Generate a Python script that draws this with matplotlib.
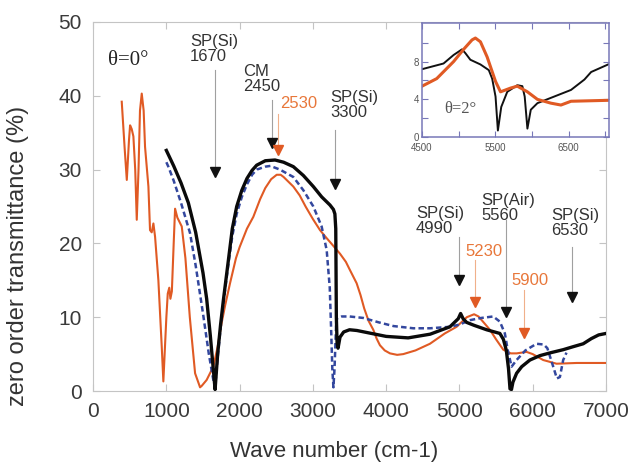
import numpy as np
import matplotlib
matplotlib.use('Agg')
from matplotlib import pyplot as plt

plt.rcParams['font.family'] = ['Liberation Sans', 'DejaVu Sans']

# main panel, theta = 0 deg
black_x = [1000, 1100, 1200, 1300, 1400, 1500, 1550, 1600, 1640, 1665, 1700, 1740, 1778, 1850, 1900, 1960, 2030,
           2100, 2170, 2233, 2350, 2483, 2600, 2733, 2870, 3006, 3120, 3233, 3280, 3300, 3312, 3320, 3330, 3343,
           3370, 3420, 3500, 3600, 3800, 4000, 4300, 4600, 4870, 4984, 5016, 5050, 5098, 5200, 5371, 5552,
           5600, 5640, 5670, 5690, 5710, 5730, 5780, 5850, 5962, 6100, 6250, 6416, 6550, 6689, 6800, 6900, 7000]
black_y = [32.6, 30.5, 28.2, 25.5, 21.5, 16.0, 12.5, 7.5, 3.0, 0.2, 5.0, 9.0, 12.3, 18.0, 22.0, 25.0, 27.2,
           28.8, 29.9, 30.6, 31.2, 31.3, 31.0, 30.4, 29.2, 27.7, 26.3, 25.2, 24.6, 24.0, 22.0, 10.0, 6.5, 5.8,
           7.3, 8.0, 8.3, 8.2, 7.8, 7.4, 7.2, 7.7, 8.7, 9.8, 10.5, 9.8, 9.3, 8.9, 8.3, 7.8,
           7.0, 5.5, 3.0, 0.3, 0.2, 1.2, 2.4, 3.3, 4.2, 4.8, 5.2, 5.6, 6.0, 6.4, 7.1, 7.6, 7.8]

blue_x = [1000, 1027, 1100, 1200, 1323, 1400, 1500, 1580, 1641, 1665, 1700, 1740, 1780, 1850, 1900, 1960, 2030,
          2100, 2170, 2233, 2350, 2420, 2550, 2733, 2870, 3006, 3119, 3188, 3230, 3250, 3265, 3280, 3295, 3320,
          3393, 3500, 3688, 3900, 4100, 4370, 4600, 4870, 5000, 5143, 5300, 5461, 5552, 5620, 5660, 5712,
          5780, 5900, 6052, 6150, 6200, 6280, 6330, 6371, 6416, 6461]
blue_y = [31.0, 30.4, 28.5, 25.5, 21.4, 17.0, 10.5, 5.0, 1.5, 0.5, 4.5, 8.5, 12.0, 17.5, 21.0, 24.0, 26.3,
          28.0, 29.3, 30.0, 30.4, 30.5, 30.0, 29.0, 27.2, 25.0, 22.3, 19.1, 14.0, 8.0, 3.0, 0.5, 3.0, 9.8,
          10.1, 10.1, 9.9, 9.3, 8.8, 8.5, 8.5, 8.7, 9.0, 9.6, 9.9, 10.1, 9.4, 7.8, 5.5, 3.3,
          4.2, 5.5, 6.4, 6.3, 5.8, 3.3, 1.7, 1.9, 4.2, 5.2]

orange_x = [391, 430, 460, 490, 505, 527, 550, 575, 596, 620, 640, 664, 690, 709, 755, 777, 800, 823, 846, 891,
            937, 959, 1000, 1019, 1040, 1055, 1075, 1100, 1119, 1150, 1210, 1260, 1320, 1392, 1460, 1483, 1550,
            1641, 1700, 1750, 1800, 1869, 1950, 2000, 2100, 2187, 2280, 2350, 2430, 2506, 2560, 2600, 2733,
            2820, 2900, 3000, 3097, 3180, 3250, 3370, 3450, 3500, 3597, 3650, 3700, 3760, 3824, 3870, 3915,
            3980, 4052, 4150, 4233, 4400, 4597, 4800, 4961, 5100, 5200, 5260, 5330, 5416, 5500, 5598, 5700,
            5780, 5916, 6000, 6143, 6325, 6600, 7000]
orange_y = [39.2, 33.0, 28.6, 34.0, 36.0, 35.5, 34.5, 30.0, 23.2, 30.0, 38.0, 40.3, 38.0, 33.1, 27.7, 21.8, 21.5,
            22.7, 20.9, 15.0, 6.0, 1.3, 10.0, 13.2, 14.0, 12.5, 13.5, 20.0, 24.7, 23.5, 22.3, 18.0, 10.0, 2.4,
            0.5, 0.7, 1.5, 3.3, 6.0, 9.0, 11.5, 14.6, 18.0, 19.5, 22.0, 23.6, 26.0, 27.5, 28.7, 29.3, 29.3,
            29.0, 27.7, 26.5, 25.0, 23.3, 21.8, 20.8, 20.0, 18.6, 17.5, 16.5, 14.6, 13.0, 11.2, 9.5, 8.3,
            7.1, 6.2, 5.5, 5.1, 4.9, 5.0, 5.5, 6.4, 7.8, 8.7, 10.0, 10.4, 10.1, 9.3, 8.3, 7.0, 5.6, 5.1,
            5.1, 5.3, 5.0, 4.2, 3.7, 3.8, 3.8]

# inset, theta = 2 deg
in_black_x = [4500, 4793, 4930, 5045, 5091, 5159, 5297, 5411, 5457, 5503, 5535, 5581, 5663, 5800, 5869, 5901,
              5938, 5984, 6075, 6304, 6533, 6716, 6808, 7040]
in_black_y = [7.2, 7.8, 8.7, 9.3, 8.9, 8.2, 7.7, 7.1, 6.2, 4.3, 0.7, 3.2, 4.8, 5.5, 5.4, 4.3,
              0.9, 2.9, 3.6, 4.3, 5.0, 6.1, 6.9, 7.7]
in_orange_x = [4500, 4700, 4930, 5067, 5182, 5228, 5297, 5388, 5503, 5571, 5709, 5800, 5938, 6075, 6258, 6396,
               6533, 7040]
in_orange_y = [5.4, 6.2, 8.0, 9.3, 10.3, 10.5, 10.1, 8.5, 5.9, 4.8, 5.2, 5.4, 4.8, 4.0, 3.6, 3.4,
               3.8, 3.9]

# arrows: position, line top, head, colour key
arrow_x = [1670, 2440, 2520, 3300, 4995, 5210, 5630, 5885, 6540]
arrow_top = [43.5, 39.4, 37.6, 35.4, 20.9, 17.7, 23.2, 13.7, 19.5]
arrow_head = [29.7, 33.6, 32.7, 28.1, 15.1, 12.1, 10.7, 7.8, 12.8]
arrow_kind = ['k', 'k', 'o', 'k', 'k', 'o', 'k', 'o', 'k']

label_text = ['SP(Si)\n1670', 'CM\n2450', '2530', 'SP(Si)\n3300', 'SP(Si)\n4990', '5230',
              'SP(Air)\n5560', '5900', 'SP(Si)\n6530']
label_x = [1323, 2046, 2551, 3233, 4407, 5075, 5303, 5712, 6258]
label_y = [46.3, 42.3, 39.0, 38.8, 23.0, 18.9, 24.8, 15.0, 22.8]

ORANGE = '#e05a24'
ORANGE_TXT = '#e8773a'
BLUE = '#33479e'
FRAME = '#c4c4c4'

fig = plt.figure(figsize=(6.29, 4.68), dpi=100)
ax = fig.add_axes([0.148, 0.1645, 0.8154, 0.7885])

ax.plot(orange_x, orange_y, color=ORANGE, lw=1.5, zorder=3)
ax.plot(blue_x, blue_y, color=BLUE, lw=1.8, ls=(0, (2.2, 1.3)), zorder=4)
ax.plot(black_x, black_y, color='#0a0a0a', lw=2.4, zorder=5)

for x, top, head, kind in zip(arrow_x, arrow_top, arrow_head, arrow_kind):
    lc = '#f0b08a' if kind == 'o' else '#a0a0a0'
    hc = ORANGE if kind == 'o' else '#111111'
    ax.plot([x, x], [top, head], color=lc, lw=0.8, zorder=2)
    ax.plot([x], [head], marker='v', color=hc, ms=7, zorder=6)

for t, x, y in zip(label_text, label_x, label_y):
    c = ORANGE_TXT if t[0].isdigit() else '#333333'
    ax.text(x, y, t, color=c, fontsize=12, ha='left', va='center', linespacing=1.0)

ax.text(205, 44.8, 'θ=0°', family=['Liberation Serif', 'DejaVu Serif'], fontsize=15, color='#222222',
        ha='left', va='center')

ax.set_xlim(0, 7000)
ax.set_ylim(0, 50)
ax.set_xticks(np.arange(0, 7001, 1000))
ax.set_yticks(np.arange(0, 51, 10))
ax.tick_params(direction='in', top=True, right=True, length=5, color=FRAME, labelsize=15,
               labelcolor='#3a3a3a', pad=8)
for s in ax.spines.values():
    s.set_color(FRAME)
ax.set_xlabel('Wave number (cm-1)', fontsize=16, color='#333333')
ax.set_ylabel('zero order transmittance (%)', fontsize=17, color='#333333')
ax.xaxis.set_label_coords(0.47, -0.135)
ax.yaxis.set_label_coords(-0.125, 0.365)

# inset
INS = '#7878b8'
ins = fig.add_axes([0.671, 0.707, 0.297, 0.244])
ins.plot(in_black_x, in_black_y, color='#111111', lw=1.4)
ins.plot(in_orange_x, in_orange_y, color=ORANGE, lw=2.2)
ins.set_xlim(4500, 7050)
ins.set_ylim(0, 12.1)
ins.set_xticks([4500, 5000, 5500, 6000, 6500, 7000])
ins.set_xticklabels(['4500', '', '5500', '', '6500', ''])
ins.set_yticks([0, 2, 4, 6, 8, 10])
ins.set_yticklabels(['0', '', '4', '', '8', ''])
ins.tick_params(axis='x', pad=4)
ins.tick_params(axis='y', pad=2)
ins.tick_params(direction='in', top=True, right=True, length=4, color=INS, labelsize=7,
                labelcolor='#555555')
for s in ins.spines.values():
    s.set_color(INS)
    s.set_linewidth(1.1)
ins.text(4800, 3.0, 'θ=2°', family=['Liberation Serif', 'DejaVu Serif'], fontsize=12, color='#555555',
         ha='left', va='center')

fig.savefig('out.png', dpi=100)
